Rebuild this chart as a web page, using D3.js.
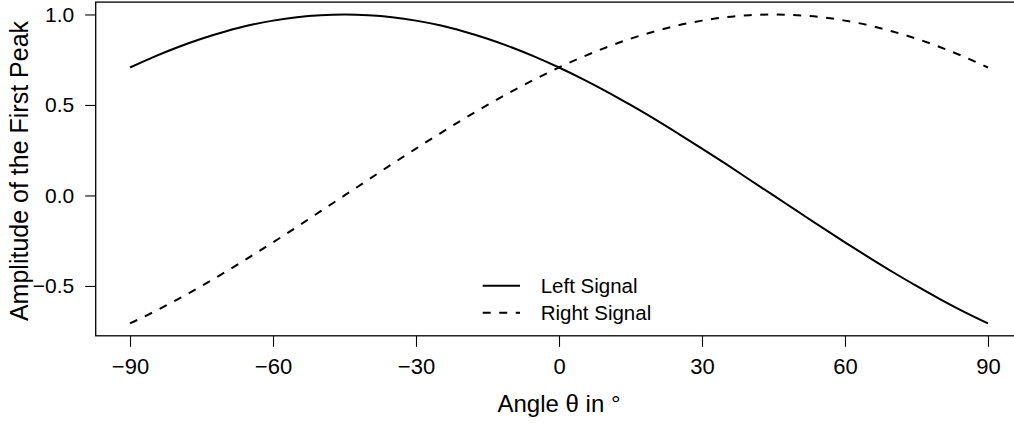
<!DOCTYPE html>
<html>
<head>
<meta charset="utf-8">
<script src="https://cdn.jsdelivr.net/npm/d3@7"></script>
<style>
  html, body { margin: 0; padding: 0; background: #fff; }
  svg { display: block; }
  text { font-family: "Liberation Sans", Arial, Helvetica, sans-serif; fill: #000; }
</style>
</head>
<body>
<svg id="chart" width="1014" height="423"></svg>
<script>
// ---- data ----
const angles = [-90,-85,-80,-75,-70,-65,-60,-55,-50,-45,-40,-35,-30,-25,-20,-15,-10,-5,0,
                5,10,15,20,25,30,35,40,45,50,55,60,65,70,75,80,85,90];
const leftSignal = [0.707,0.766,0.819,0.866,0.906,0.940,0.966,0.985,0.996,1.000,0.996,0.985,0.966,0.940,0.906,0.866,0.819,0.766,0.707,
                    0.643,0.574,0.500,0.423,0.342,0.259,0.174,0.087,0.000,-0.087,-0.174,-0.259,-0.342,-0.423,-0.500,-0.574,-0.643,-0.707];
const rightSignal = [-0.707,-0.643,-0.574,-0.500,-0.423,-0.342,-0.259,-0.174,-0.087,0.000,0.087,0.174,0.259,0.342,0.423,0.500,0.574,0.643,0.707,
                     0.766,0.819,0.866,0.906,0.940,0.966,0.985,0.996,1.000,0.996,0.985,0.966,0.940,0.906,0.866,0.819,0.766,0.707];
const xTicks = [-90,-60,-30,0,30,60,90];
const yTicks = [-0.5,0.0,0.5,1.0];
const yTickLabels = ["\u22120.5","0.0","0.5","1.0"];
const xTickLabels = ["\u221290","\u221260","\u221230","0","30","60","90"];
const seriesNames = ["Left Signal","Right Signal"];
const xTitle = "Angle \u03b8 in \u00b0";
const yTitle = "Amplitude of the First Peak";

// ---- layout ----
const svg = d3.select("#chart");
const plotLeft = 95.7, plotRight = 1022.3, plotTop = 2.1, plotBottom = 335.8;

const x = d3.scaleLinear().domain([-97.2, 97.2]).range([plotLeft, plotRight]);
const y = d3.scaleLinear().domain([-0.7754, 1.0683]).range([plotBottom, plotTop]);

// box
svg.append("rect")
  .attr("x", plotLeft).attr("y", plotTop)
  .attr("width", plotRight - plotLeft).attr("height", plotBottom - plotTop)
  .attr("fill", "none").attr("stroke", "#000").attr("stroke-width", 1.3);

// x axis
const xAxis = d3.axisBottom(x).tickValues(xTicks).tickSize(11).tickPadding(12)
  .tickFormat((d, i) => xTickLabels[i]);
const gx = svg.append("g").attr("transform", `translate(0,${plotBottom})`).call(xAxis);
gx.select(".domain").remove();
gx.selectAll(".tick line").attr("stroke", "#000").attr("stroke-width", 1.1);
gx.selectAll(".tick text").attr("font-size", 22).attr("font-family", "Liberation Sans, Arial, sans-serif").attr("fill", "#000");

// y axis
const yAxis = d3.axisLeft(y).tickValues(yTicks).tickSize(10.5).tickPadding(11)
  .tickFormat((d, i) => yTickLabels[i]);
const gy = svg.append("g").attr("transform", `translate(${plotLeft},0)`).call(yAxis);
gy.select(".domain").remove();
gy.selectAll(".tick line").attr("stroke", "#000").attr("stroke-width", 1.1);
gy.selectAll(".tick text").attr("font-size", 21).attr("font-family", "Liberation Sans, Arial, sans-serif").attr("fill", "#000");

// titles
svg.append("text")
  .attr("x", (plotLeft + plotRight) / 2).attr("y", 412)
  .attr("text-anchor", "middle").attr("font-size", 24)
  .text(xTitle);
svg.append("text")
  .attr("transform", `translate(28,171) rotate(-90)`)
  .attr("text-anchor", "middle").attr("font-size", 25)
  .text(yTitle);

// lines
const line = d3.line().x(d => x(d[0])).y(d => y(d[1])).curve(d3.curveMonotoneX);
svg.append("path")
  .datum(angles.map((a, i) => [a, leftSignal[i]]))
  .attr("d", line).attr("fill", "none").attr("stroke", "#000").attr("stroke-width", 2);
svg.append("path")
  .datum(angles.map((a, i) => [a, rightSignal[i]]))
  .attr("d", line).attr("fill", "none").attr("stroke", "#000").attr("stroke-width", 2)
  .attr("stroke-dasharray", "8,8.5");

// legend
const legendX0 = 482.7, legendX1 = 520, legendTextX = 540.7;
const legendRows = [{y: 285.7, dash: null}, {y: 312.7, dash: "8,8.5"}];
legendRows.forEach((r, i) => {
  svg.append("line")
    .attr("x1", legendX0).attr("x2", legendX1).attr("y1", r.y).attr("y2", r.y)
    .attr("stroke", "#000").attr("stroke-width", 2)
    .attr("stroke-dasharray", r.dash);
  svg.append("text")
    .attr("x", legendTextX).attr("y", r.y).attr("dy", "0.35em")
    .attr("font-size", 20.5)
    .text(seriesNames[i]);
});
</script>
</body>
</html>
